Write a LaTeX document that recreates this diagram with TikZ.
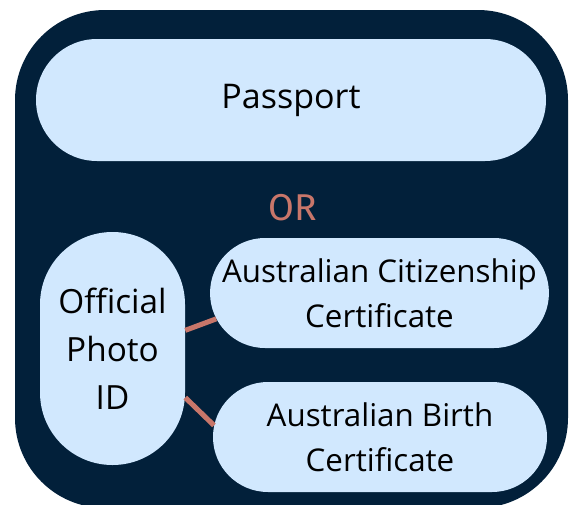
\documentclass[tikz,border=0pt]{standalone}
\usepackage{fontspec}
\setmainfont{Open Sans}
\newfontfamily\orfont{Fira Sans}
\usepackage{tikz}
\usetikzlibrary{shapes.misc, positioning}
\definecolor{navy}{HTML}{02203A}
\definecolor{paleblue}{HTML}{D1E8FE}
\definecolor{salmon}{HTML}{C8766A}

\begin{document}
\begin{tikzpicture}[
		x=0.75pt, y=-0.75pt,
		pill/.style={rounded rectangle, fill=paleblue, text=black, align=center,
			inner sep=0pt, font=\fontsize{23.5}{33.5}\selectfont},
		tallpill/.style={rectangle, fill=paleblue, text=black, align=center,
			inner sep=0pt, font=\fontsize{25}{36}\selectfont},
		link/.style={draw=salmon, line width=3.8pt}
		]

		\useasboundingbox (0,0) rectangle (579,504);
		\fill[navy, rounded corners=67.5pt] (15,10) rectangle (568,508);

		\node[pill, minimum width=382.5pt, minimum height=91.5pt, font=\fontsize{25.5}{30}\selectfont] (passport) at (291,100) {Passport};
		\node[text=salmon, font=\orfont\fontsize{28}{30}\selectfont] (or) at (293,208) {OR};
		\node[tallpill, rounded corners=54.3pt, minimum width=108.75pt, minimum height=174.75pt] (photo) at (112.5,348.5) {Official\\Photo\\ID};
		\node[pill, minimum width=249.75pt, minimum height=82.5pt] (citizen) at (379.5,293) {Australian Citizenship\\Certificate};
		\node[pill, minimum width=250.5pt, minimum height=82.5pt] (birth) at (380,437) {Australian Birth\\Certificate};

		\draw[link] (photo.14) -- (citizen.189);
		\draw[link] (photo.-34) -- (birth.176);

	\end{tikzpicture}
\end{document}
